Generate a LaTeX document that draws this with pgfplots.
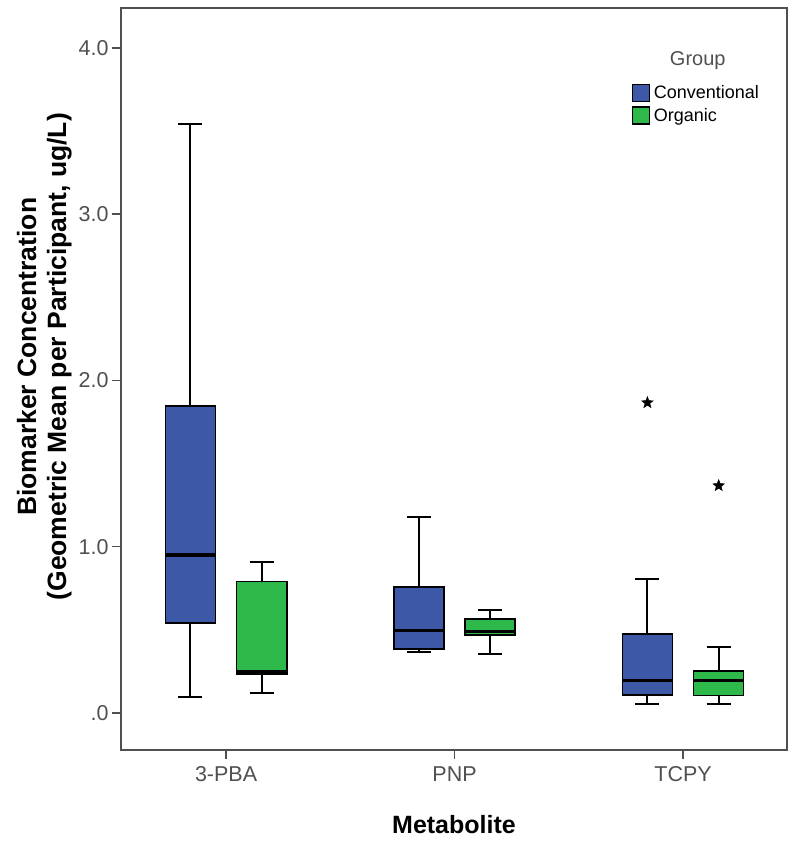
\documentclass[border=0pt]{standalone}
\usepackage{fontspec}
\setmainfont{Liberation Sans}
\usepackage{pgfplots}
\pgfplotsset{compat=1.18}
\usepgfplotslibrary{statistics}

\definecolor{spssblue}{RGB}{62,88,168}
\definecolor{spssgreen}{RGB}{46,184,74}
\definecolor{axgray}{RGB}{80,80,80}

% filled five-pointed star for the extreme values
\pgfdeclareplotmark{fstar}{%
  \pgfpathmoveto{\pgfpointpolar{90}{\pgfplotmarksize}}%
  \pgfpathlineto{\pgfpointpolar{126}{0.42\pgfplotmarksize}}%
  \pgfpathlineto{\pgfpointpolar{162}{\pgfplotmarksize}}%
  \pgfpathlineto{\pgfpointpolar{198}{0.42\pgfplotmarksize}}%
  \pgfpathlineto{\pgfpointpolar{234}{\pgfplotmarksize}}%
  \pgfpathlineto{\pgfpointpolar{270}{0.42\pgfplotmarksize}}%
  \pgfpathlineto{\pgfpointpolar{306}{\pgfplotmarksize}}%
  \pgfpathlineto{\pgfpointpolar{342}{0.42\pgfplotmarksize}}%
  \pgfpathlineto{\pgfpointpolar{18}{\pgfplotmarksize}}%
  \pgfpathlineto{\pgfpointpolar{54}{0.42\pgfplotmarksize}}%
  \pgfpathclose\pgfusepathqfillstroke}

\begin{document}
\begin{tikzpicture}
\begin{axis}[
  name=ax,
  scale only axis,
  width=666pt, height=742pt,
  xmin=-0.46, xmax=2.455,
  ymin=-0.223, ymax=4.24,
  xtick={0,1,2},
  xticklabels={3-PBA,PNP,TCPY},
  ytick={0,1,2,3,4},
  yticklabels={.0,1.0,2.0,3.0,4.0},
  tick align=outside,
  xtick pos=bottom, ytick pos=left,
  major tick length=9pt,
  tick style={axgray, line width=1.5pt},
  axis line style={axgray, line width=1.8pt},
  ticklabel style={font=\fontsize{21.5}{25}\selectfont, text=axgray},
  xticklabel style={yshift=-4pt},
  /pgf/number format/assume math mode=true,
  xlabel={Metabolite},
  xlabel style={font=\bfseries\fontsize{25}{30}\selectfont, yshift=-27pt},
  ylabel={Biomarker Concentration\\(Geometric Mean per Participant, ug/L)},
  ylabel style={align=center, font=\bfseries\fontsize{26.5}{30}\selectfont,
    at={(ticklabel cs:0.53)}},
  boxplot/draw direction=y,
  boxplot/box extend=0.219,
  boxplot/whisker extend=0.105,
  boxplot/every median/.style={line width=3.5pt},
  boxplot/every whisker/.style={line width=2pt},
  legend style={draw=none, fill=none, at={(0.762,0.901)}, anchor=north west,
    font=\fontsize{18}{21}\selectfont, row sep=4pt,
    nodes={inner xsep=4pt}},
  legend cell align=left,
]
% 3-PBA
\addplot[forget plot, draw=black, fill=spssblue, line width=1.5pt,
  boxplot prepared={draw position=-0.156, lower whisker=0.096,
  lower quartile=0.54, median=0.95, upper quartile=1.847, upper whisker=3.54}]
  coordinates {};
\addplot[forget plot, draw=black, fill=spssgreen, line width=1.5pt,
  boxplot prepared={draw position=0.156, lower whisker=0.122,
  lower quartile=0.233, median=0.25, upper quartile=0.79, upper whisker=0.905}]
  coordinates {};
% PNP
\addplot[forget plot, draw=black, fill=spssblue, line width=1.5pt,
  boxplot prepared={draw position=0.844, lower whisker=0.369,
  lower quartile=0.385, median=0.495, upper quartile=0.756, upper whisker=1.181}]
  coordinates {};
\addplot[forget plot, draw=black, fill=spssgreen, line width=1.5pt,
  boxplot prepared={draw position=1.156, lower whisker=0.357,
  lower quartile=0.469, median=0.489, upper quartile=0.565, upper whisker=0.62}]
  coordinates {};
% TCPY
\addplot[forget plot, draw=black, fill=spssblue, line width=1.5pt,
  mark=fstar, mark size=6pt, mark options={fill=black, draw=black, line width=0.5pt},
  boxplot prepared={draw position=1.844, lower whisker=0.054,
  lower quartile=0.108, median=0.194, upper quartile=0.475, upper whisker=0.806}]
  coordinates {(0,1.866)};
\addplot[forget plot, draw=black, fill=spssgreen, line width=1.5pt,
  mark=fstar, mark size=6pt, mark options={fill=black, draw=black, line width=0.5pt},
  boxplot prepared={draw position=2.156, lower whisker=0.054,
  lower quartile=0.104, median=0.194, upper quartile=0.253, upper whisker=0.395}]
  coordinates {(0,1.367)};

\addlegendimage{legend image code/.code={\draw[draw=black, fill=spssblue, line width=1.2pt] (0pt,-8.5pt) rectangle (17pt,8.5pt);}}
\addlegendentry{Conventional}
\addlegendimage{legend image code/.code={\draw[draw=black, fill=spssgreen, line width=1.2pt] (0pt,-8.5pt) rectangle (17pt,8.5pt);}}
\addlegendentry{Organic}

\node[text=axgray, font=\fontsize{20}{24}\selectfont] at (rel axis cs:0.866,0.929) {Group};
\end{axis}
\pgfresetboundingbox
\path[use as bounding box] ([shift={(-121pt,-95pt)}]ax.south west) rectangle ([shift={(13pt,8pt)}]ax.north east);
\end{tikzpicture}
\end{document}
